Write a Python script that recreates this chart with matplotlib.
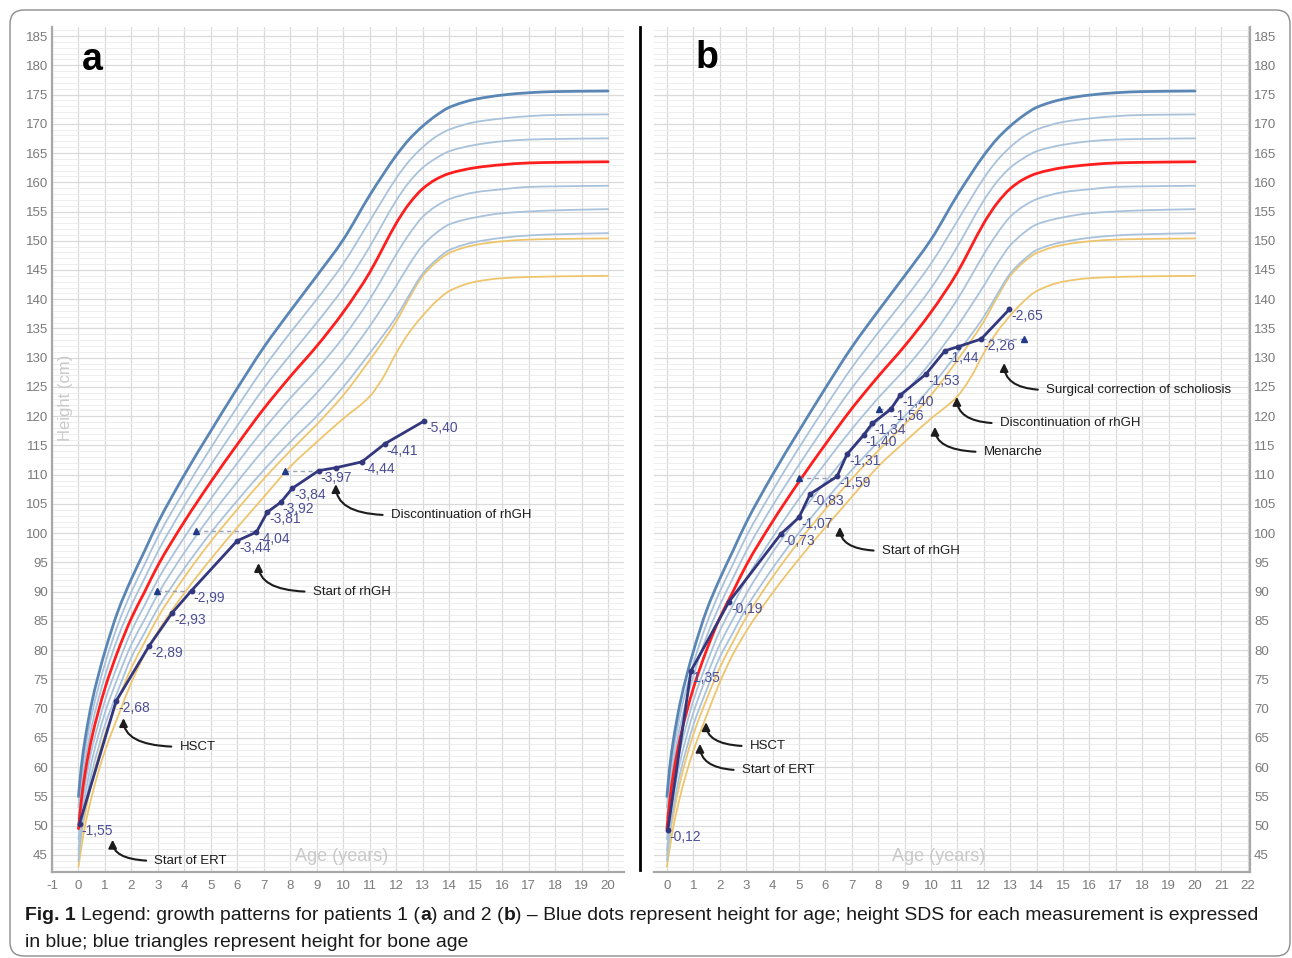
import matplotlib
matplotlib.use('Agg')
import matplotlib.pyplot as plt
import numpy as np
from matplotlib import font_manager
from matplotlib.patches import FancyBboxPatch, PathPatch
from matplotlib.path import Path
from matplotlib.transforms import IdentityTransform

W, H = 1292, 958

# reference curves (height in cm against age in years)
ref_age = [0, 0.1, 0.25, 0.5, 0.75, 1, 1.5, 2, 2.5, 3, 4, 5, 6, 7, 8, 9, 10, 11, 11.5, 12, 12.5, 13, 13.5, 14, 15, 16, 17, 18, 20]
p97 = [55.0, 59.8, 64.8, 71.0, 75.7, 79.8, 86.8, 92.2, 97.0, 101.8, 110.0, 117.5, 124.8, 131.8, 138.0, 144.0, 150.2, 157.8, 161.3, 164.6, 167.4, 169.6, 171.4, 172.8, 174.2, 174.9, 175.3, 175.5, 175.6]
p90 = [53.2, 57.9, 62.9, 69.0, 73.6, 77.7, 84.5, 90.0, 94.7, 99.4, 107.3, 114.6, 121.6, 128.3, 134.3, 140.0, 146.1, 153.4, 157.1, 160.7, 163.7, 166.0, 167.8, 169.0, 170.3, 170.9, 171.3, 171.5, 171.6]
p75 = [51.3, 56.0, 60.9, 67.0, 71.6, 75.6, 82.3, 87.7, 92.3, 96.9, 104.7, 111.7, 118.4, 124.8, 130.5, 136.0, 141.9, 149.0, 153.0, 156.9, 160.1, 162.5, 164.1, 165.3, 166.4, 167.0, 167.3, 167.4, 167.5]
p50 = [49.5, 54.0, 59.0, 65.0, 69.5, 73.5, 80.0, 85.5, 90.0, 94.5, 102.0, 108.8, 115.2, 121.3, 126.8, 132.0, 137.8, 144.6, 148.8, 153.0, 156.4, 158.9, 160.5, 161.5, 162.5, 163.0, 163.3, 163.4, 163.5]
p25 = [47.7, 52.1, 57.1, 63.0, 67.4, 71.4, 77.7, 83.3, 87.7, 92.1, 99.3, 105.9, 112.0, 117.8, 123.1, 128.0, 133.5, 140.0, 143.8, 147.7, 151.2, 154.1, 155.9, 157.1, 158.3, 158.8, 159.2, 159.3, 159.4]
p10 = [45.8, 50.2, 55.1, 61.0, 65.4, 69.3, 75.5, 81.0, 85.3, 89.6, 96.7, 103.0, 108.8, 114.3, 119.3, 124.0, 129.3, 135.4, 138.8, 142.3, 146.0, 149.2, 151.3, 152.8, 154.0, 154.7, 155.0, 155.2, 155.4]
p3 = [44.0, 48.5, 53.2, 59.0, 63.3, 67.2, 73.2, 78.8, 83.0, 87.2, 94.0, 100.1, 105.6, 110.8, 115.6, 120.0, 125.0, 130.8, 133.8, 137.0, 140.8, 144.4, 146.7, 148.4, 149.8, 150.5, 150.9, 151.1, 151.3]
ylw_hi = [45.0, 48.2, 52.0, 57.5, 61.8, 65.6, 71.6, 77.0, 81.4, 85.6, 92.5, 98.6, 104.1, 109.3, 114.1, 118.6, 123.6, 129.6, 132.8, 136.2, 140.3, 144.0, 146.3, 147.9, 149.3, 149.9, 150.2, 150.3, 150.4]
ylw_lo = [43.0, 46.0, 50.0, 55.0, 59.2, 62.8, 68.8, 74.5, 79.3, 83.2, 89.8, 95.6, 101.0, 106.2, 111.4, 115.6, 119.6, 123.4, 126.6, 130.8, 134.4, 137.2, 139.6, 141.4, 143.0, 143.6, 143.8, 143.9, 144.0]

# patient 1 (panel a)
age_a = [0.04, 1.42, 2.66, 3.54, 4.27, 5.99, 6.72, 7.13, 7.64, 8.08, 9.07, 9.72, 10.70, 11.57, 13.06]
ht_a = [50.35, 71.3, 80.7, 86.4, 90.2, 98.7, 100.2, 103.6, 105.3, 107.7, 110.7, 111.2, 112.2, 115.3, 119.2]
sds_a = ['-1,55', '-2,68', '-2,89', '-2,93', '-2,99', '-3,44', '-4,04', '-3,81', '-3,92', '-3,84', '-3,97', '', '-4,44', '-4,41', '-5,40']
bone_age_a = [2.96, 4.45, 7.81]
bone_ht_a = [90.2, 100.3, 110.7]
bone_link_a = [4.27, 6.72, 9.07]
notes_a = ['Start of ERT', 'HSCT', 'Start of rhGH', 'Discontinuation of rhGH']
note_tip_a = [(1.29, 47.6), (1.70, 68.4), (6.80, 94.9), (9.72, 108.4)]
note_txt_a = [(2.87, 44.0), (3.82, 63.5), (8.85, 90.0), (11.80, 103.1)]

# patient 2 (panel b)
age_b = [0.03, 0.91, 2.35, 4.32, 5.00, 5.42, 6.44, 6.82, 7.45, 7.78, 8.48, 8.83, 9.81, 10.53, 11.03, 11.90, 12.97]
ht_b = [49.2, 76.45, 88.3, 99.9, 102.7, 106.7, 109.7, 113.5, 116.8, 118.8, 121.2, 123.6, 127.2, 131.2, 131.9, 133.2, 138.3]
sds_b = ['-0,12', '1,35', '-0,19', '-0,73', '-1,07', '-0,83', '-1,59', '-1,31', '-1,40', '-1,34', '-1,56', '-1,40', '-1,53', '-1,44', '', '-2,26', '-2,65']
bone_age_b = [5.01, 8.03, 13.53]
bone_ht_b = [109.5, 121.2, 133.2]
bone_link_b = [6.44, 8.48, 11.90]
notes_b = ['Surgical correction of scholiosis', 'Discontinuation of rhGH', 'Menarche', 'Start of rhGH', 'HSCT', 'Start of ERT']
note_tip_b = [(12.77, 129.1), (10.98, 123.3), (10.15, 118.2), (6.55, 101.1), (1.48, 67.7), (1.25, 64.0)]
note_txt_b = [(14.36, 124.5), (12.61, 118.8), (12.0, 113.9), (8.14, 97.0), (3.14, 63.6), (2.84, 59.5)]

DARK_BLUE = '#5a86b6'
LIGHT_BLUE = '#a9c2db'
RED = '#ff1e1e'
YELLOW = '#eec56c'
NAVY = '#33377e'
SDS_COL = '#4c4e94'
FONT = ['Liberation Sans', 'DejaVu Sans']

plt.rcParams['font.family'] = FONT
plt.rcParams['axes.unicode_minus'] = False

fig = plt.figure(figsize=(W / 100, H / 100), dpi=100)
fig.patch.set_facecolor('white')


def axes_px(x0, x1, y0, y1):
    return fig.add_axes([x0 / W, 1 - y1 / H, (x1 - x0) / W, (y1 - y0) / H])


def smooth_curve(ax, xs, ys, **kw):
    # monotone cubic through the read points, drawn as bezier segments
    x = np.asarray(xs, float)
    y = np.asarray(ys, float)
    dx = np.diff(x)
    d = np.diff(y) / dx
    m = np.zeros_like(x)
    m[0], m[-1] = d[0], d[-1]
    for i in range(1, len(x) - 1):
        if d[i - 1] * d[i] <= 0:
            m[i] = 0
        else:
            w1 = 2 * dx[i] + dx[i - 1]
            w2 = dx[i] + 2 * dx[i - 1]
            m[i] = (w1 + w2) / (w1 / d[i - 1] + w2 / d[i])
    verts = [(x[0], y[0])]
    codes = [Path.MOVETO]
    for i in range(len(x) - 1):
        h = dx[i]
        verts += [(x[i] + h / 3, y[i] + m[i] * h / 3),
                  (x[i + 1] - h / 3, y[i + 1] - m[i + 1] * h / 3),
                  (x[i + 1], y[i + 1])]
        codes += [Path.CURVE4] * 3
    ax.add_patch(PathPatch(Path(verts, codes), fill=False, capstyle='round', **kw))


def draw_panel(ax, xlim, xticks, ages, hts, sds, b_age, b_ht, b_link, notes, tips, txts, right):
    ax.set_xlim(*xlim)
    ax.set_ylim(42.09, 186.54)
    ax.set_xticks(xticks)
    ax.set_yticks(range(45, 186, 5))
    ax.set_yticks(range(43, 187), minor=True)
    ax.grid(which='major', color='#dadada', lw=0.9, zorder=0)
    ax.grid(which='minor', axis='y', color='#eeeeee', lw=0.7, zorder=0)
    ax.set_axisbelow(True)
    ax.tick_params(which='both', length=0, labelsize=9.5, labelcolor='#7a7a7a', pad=3)
    ax.tick_params(axis='x', pad=6)
    for s in ax.spines.values():
        s.set_visible(False)
    side = 'right' if right else 'left'
    ax.spines[side].set_visible(True)
    ax.spines['bottom'].set_visible(True)
    for s in (side, 'bottom'):
        ax.spines[s].set_color('#a8a8a8')
        ax.spines[s].set_linewidth(1.6)
    if right:
        ax.yaxis.tick_right()

    smooth_curve(ax, ref_age, ylw_lo, ec=YELLOW, lw=1.3, zorder=2)
    smooth_curve(ax, ref_age, ylw_hi, ec=YELLOW, lw=1.3, zorder=2)
    for curve in (p3, p10, p25, p75, p90):
        smooth_curve(ax, ref_age, curve, ec=LIGHT_BLUE, lw=1.3, zorder=2)
    smooth_curve(ax, ref_age, p50, ec=RED, lw=2.0, zorder=3)
    smooth_curve(ax, ref_age, p97, ec=DARK_BLUE, lw=2.0, zorder=3)

    for a, h, l in zip(b_age, b_ht, b_link):
        ax.plot([a, l], [h, h], color='#97a0b4', lw=1.0, ls=(0, (3, 2.5)), zorder=4)
    ax.plot(b_age, b_ht, ls='none', marker='^', ms=5, color='#1f3b88', zorder=6)

    ax.plot(ages, hts, color=NAVY, lw=2.0, marker='o', ms=3.2, zorder=5)
    for a, h, s in zip(ages, hts, sds):
        if s:
            ax.annotate(s, (a, h), xytext=(2, -7), textcoords='offset pixels',
                        ha='left', va='center', fontsize=10, color=SDS_COL, zorder=7)

    for t, tip, pos in zip(notes, tips, txts):
        ax.annotate(t, xy=tip, xytext=pos, ha='left', va='center', fontsize=9.5, color='#1c1c1c',
                    zorder=8,
                    arrowprops=dict(arrowstyle='-|>,head_length=0.5,head_width=0.25',
                                    color='#1c1c1c', lw=1.5, relpos=(0, 0.5),
                                    shrinkA=4, shrinkB=0,
                                    connectionstyle='angle3,angleA=0,angleB=90'))


ax_a = axes_px(52, 624, 27, 872)
draw_panel(ax_a, (-1, 20.6), range(-1, 21), age_a, ht_a, sds_a, bone_age_a, bone_ht_a, bone_link_a,
           notes_a, note_tip_a, note_txt_a, right=False)
ax_a.text(0.53, 180.9, 'a', fontsize=27, fontweight='bold', ha='center', va='center', color='black')
ax_a.text(-0.5, 123.1, 'Height (cm)', rotation=90, fontsize=12, color='#c9c9c9', ha='center', va='center')
ax_a.text(9.94, 44.7, 'Age (years)', fontsize=13, color='#c9c9c9', ha='center', va='center')

ax_b = axes_px(654, 1250, 27, 872)
draw_panel(ax_b, (-0.49, 22.08), range(0, 23), age_b, ht_b, sds_b, bone_age_b, bone_ht_b, bone_link_b,
           notes_b, note_tip_b, note_txt_b, right=True)
ax_b.text(1.52, 181.2, 'b', fontsize=27, fontweight='bold', ha='center', va='center', color='black')
ax_b.text(10.27, 44.7, 'Age (years)', fontsize=13, color='#c9c9c9', ha='center', va='center')

# separator between the panels
fig.add_artist(plt.Line2D([640 / W, 640 / W], [1 - 870 / H, 1 - 27 / H], color='black', lw=2.0,
                          transform=fig.transFigure))

# rounded frame round the whole figure
fig.add_artist(FancyBboxPatch((10, 2), 1280, 946, boxstyle='round,pad=0,rounding_size=14',
                              transform=IdentityTransform(), fill=False, ec='#8c8c8c', lw=1.0))

# caption, written as runs so that single words can be bold
try:
    font_manager.findfont('Liberation Sans Narrow', fallback_to_default=False)
    CAP_FONT = ['Liberation Sans Narrow', 'DejaVu Sans']
except Exception:
    CAP_FONT = FONT

line1 = [('Fig. 1', 'bold'), (' ', 'normal'), ('Legend: growth patterns for patients 1 (', 'normal'),
         ('a', 'bold'), (') and 2 (', 'normal'), ('b', 'bold'),
         (') \u2013 Blue dots represent height for age; height SDS for each measurement is expressed', 'normal')]
line2 = [('in blue; blue triangles represent height for bone age', 'normal')]

renderer = fig.canvas.get_renderer()


def run_width(s, w, size):
    # measure with guards so that spaces at the ends are counted
    t = fig.text(0, 0, '|' + s + '|', fontsize=size, fontweight=w, family=CAP_FONT)
    g = fig.text(0, 0, '||', fontsize=size, fontweight=w, family=CAP_FONT)
    wd = t.get_window_extent(renderer).width - g.get_window_extent(renderer).width
    t.remove()
    g.remove()
    return wd


size = 14
total = sum(run_width(s, w, size) for s, w in line1)
size = size * 1237 / total


def put_line(runs, x, y):
    for s, w in runs:
        fig.text(x, y, s, fontsize=size, fontweight=w, family=CAP_FONT, ha='left', va='baseline',
                 color='#1a1a1a', transform=IdentityTransform())
        x += run_width(s, w, size)


put_line(line1, 25, H - 920)
put_line(line2, 25, H - 947)

fig.savefig('out.png', dpi=100, facecolor='white')
